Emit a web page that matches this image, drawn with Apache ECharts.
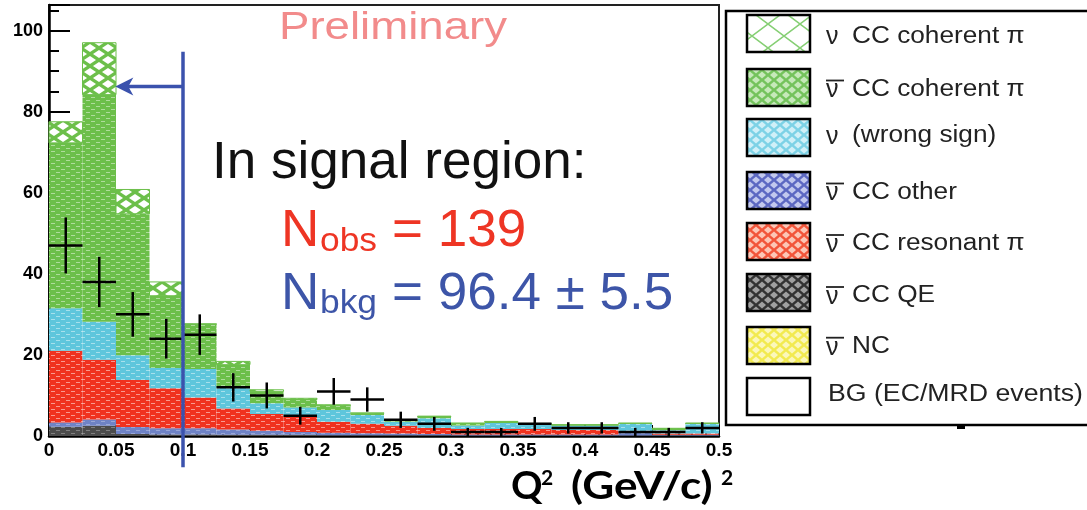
<!DOCTYPE html>
<html><head><meta charset="utf-8">
<script src="https://cdn.jsdelivr.net/npm/echarts@6/dist/echarts.min.js"></script>
<style>html,body{margin:0;padding:0;background:#fff}#c{width:1087px;height:510px}</style>
</head><body><div id="c"></div>
<script>
// ---------- data ----------
const binEdges = [0,0.025,0.05,0.075,0.1,0.125,0.15,0.175,0.2,0.225,0.25,0.275,0.3,0.325,0.35,0.375,0.4,0.425,0.45,0.475,0.5];
const xTickLabels = ['0','0.05','0.1','0.15','0.2','0.25','0.3','0.35','0.4','0.45','0.5'];
const yTickLabels = ['0','20','40','60','80','100'];

// stacked MC components (bottom -> top), events per bin
const bgEcMrd          = [0,0,0,0,0,0,0,0,0,0,0,0,0,0,0,0,0,0,0,0];
const nubarNC          = [0,0,0,0,0,0,0,0,0,0,0,0,0,0,0,0,0,0,0,0];
const nubarCCQE        = [2.3,2.5,0.5,0.4,0.4,0.3,0.3,0.3,0.2,0.2,0.2,0.2,0.1,0.1,0.1,0.1,0.1,0.1,0.1,0.1];
const nubarCCOther     = [1.0,1.6,1.7,1.5,1.5,1.3,1.0,0.7,0.6,0.5,0.4,0.3,0.3,0.3,0.3,0.3,0.3,0.7,0.2,0.2];
const nubarCCResonant  = [17.7,14.7,11.6,9.9,7.6,5.2,4.1,3.7,2.7,2.3,1.9,1.5,1.3,1.3,1.3,1.1,1.1,0.2,0.3,0.3];
const nuWrongSign      = [10.5,9.4,6.1,5.0,7.0,5.2,2.7,2.3,2.9,2.2,1.0,2.4,0.9,1.5,1.2,1.1,1.1,2.0,0.8,2.4];
const nubarCCCoherent  = [40.8,56.0,34.9,17.8,11.0,5.6,2.9,2.0,1.1,0.4,0.3,0.4,0.5,0.3,0.1,0.1,0.1,0.1,0.4,0.1];
const nuCCCoherent     = [5.2,12.8,6.0,3.4,0.2,0.8,0.4,0.3,0.2,0.1,0.1,0.1,0.1,0.1,0.1,0.1,0.1,0.1,0.1,0.1];

// observed data with vertical error bars
const dataCounts = [47,38,30,24,25,12,10,5,11,9,4,3,1,1,3,2,2,1,1,2];
const dataErrors = [6.9,6.2,5.5,4.9,5.0,3.5,3.2,2.2,3.3,3.0,2.0,1.7,1.0,1.0,1.7,1.4,1.4,1.0,1.0,1.4];

const legendLabels = ['CC coherent π','CC coherent π','(wrong sign)','CC other','CC resonant π','CC QE','NC','BG (EC/MRD events)'];
const legendBar    = [false,true,false,true,true,true,true,null];

// ---------- patterns ----------
function pat(w,h,draw){const c=document.createElement('canvas');c.width=w;c.height=h;const g=c.getContext('2d');draw(g,w,h);return {image:c,repeat:'repeat'};}
function dashPat(base,dash,alpha){return pat(10,6,g=>{g.fillStyle=base;g.fillRect(0,0,10,6);g.globalAlpha=alpha;g.fillStyle=dash;g.fillRect(1,1,4,1);g.fillRect(6,4,4,1);});}
function diamondPat(base,light,w,h,rx,ry){return pat(w,h,g=>{g.fillStyle=base;g.fillRect(0,0,w,h);g.fillStyle=light;
  const d=(cx,cy)=>{g.beginPath();g.moveTo(cx-rx,cy);g.lineTo(cx,cy-ry);g.lineTo(cx+rx,cy);g.lineTo(cx,cy+ry);g.closePath();g.fill();};
  d(w/2,h/2);d(0,0);d(w,0);d(0,h);d(w,h);});}
function latticePat(bg,line,w,h,lw){return pat(w,h,g=>{g.fillStyle=bg;g.fillRect(0,0,w,h);g.strokeStyle=line;g.lineWidth=lw;g.beginPath();g.moveTo(0,0);g.lineTo(w,h);g.moveTo(0,h);g.lineTo(w,0);g.stroke();});}

const GREEN='#6cbf4a';
const layers = [
  {vals:bgEcMrd,         fill:'#ffffff'},
  {vals:nubarNC,         fill:dashPat('#f2e84a','#fff',0.5)},
  {vals:nubarCCQE,       fill:dashPat('#4c4c4c','#999',0.7)},
  {vals:nubarCCOther,    fill:dashPat('#6f83c6','#fff',0.3)},
  {vals:nubarCCResonant, fill:dashPat('#f0321f','#fff',0.5)},
  {vals:nuWrongSign,     fill:dashPat('#5ec6dc','#fff',0.45)},
  {vals:nubarCCCoherent, fill:dashPat(GREEN,'#fff',0.45)},
  {vals:nuCCCoherent,    fill:diamondPat(GREEN,'#fff',18,12,6,4), stroke:GREEN}
];
const legendFills = [
  latticePat('#fff','#86cf74',32,24,1.5),
  diamondPat('#74c35c','#c6e9ba',12,10,4,3.5),
  diamondPat('#7dd2e6','#d0f0f8',12,10,4,3.5),
  diamondPat('#5c68c2','#c2c8ee',12,10,4,3.5),
  diamondPat('#f2553a','#fcc6b6',12,10,4,3.5),
  diamondPat('#333333','#a0a0a0',12,10,4,3.5),
  diamondPat('#f2ea50','#fbf7bb',12,10,4,3.5),
  '#ffffff'
];

// ---------- series ----------
const cum = binEdges.slice(1).map(()=>0);
const series = layers.map((L,k)=>{
  const data = L.vals.map((v,i)=>{const b=cum[i];cum[i]+=v;return [binEdges[i],binEdges[i+1],b,cum[i]];});
  return {
    type:'custom', coordinateSystem:'cartesian2d', xAxisIndex:0, yAxisIndex:0, silent:true, z:2+k,
    data,
    renderItem(params,api){
      const p0=api.coord([api.value(0),api.value(3)]);
      const p1=api.coord([api.value(1),api.value(2)]);
      const h=p1[1]-p0[1];
      if(h<=0.01) return {type:'group',children:[]};
      return {type:'rect',shape:{x:p0[0],y:p0[1],width:p1[0]-p0[0],height:h},
        style:{fill:L.fill,stroke:L.stroke||null,lineWidth:L.stroke?1:0}};
    }
  };
});
series.push({
  type:'custom', coordinateSystem:'cartesian2d', xAxisIndex:0, yAxisIndex:0, silent:true, z:20,
  data:dataCounts.map((v,i)=>[(binEdges[i]+binEdges[i+1])/2, v, dataErrors[i], (binEdges[i+1]-binEdges[i])/2]),
  renderItem(params,api){
    const xc=api.value(0),y=api.value(1),e=api.value(2),hw=api.value(3);
    const pl=api.coord([xc-hw,y]),pr=api.coord([xc+hw,y]),pt=api.coord([xc,y+e]),pb=api.coord([xc,Math.max(0,y-e)]);
    const st={stroke:'#000',lineWidth:2.5};
    return {type:'group',children:[
      {type:'line',shape:{x1:pl[0],y1:pl[1],x2:pr[0],y2:pr[1]},style:st},
      {type:'line',shape:{x1:pt[0],y1:pt[1],x2:pb[0],y2:pb[1]},style:st}
    ]};
  }
});

const FONT="'Liberation Sans', Arial, Helvetica, sans-serif";
const chart = echarts.init(document.getElementById('c'),null,{renderer:'canvas'});
const YMAX=106.3;
chart.setOption({
  backgroundColor:'#fff',
  animation:false,
  grid:{left:49,right:368,top:5,bottom:74,show:true,borderColor:'#222',borderWidth:2,backgroundColor:'transparent'},
  xAxis:[{
    type:'value',min:0,max:0.5,interval:0.05,
    axisLine:{show:true,onZero:false,lineStyle:{color:'#000',width:2.5}},
    axisTick:{show:true,inside:true,length:11,lineStyle:{color:'#000',width:2}},
    minorTick:{show:true,splitNumber:5,length:5,lineStyle:{color:'#000',width:1.5}},
    splitLine:{show:false},
    axisLabel:{margin:5,color:'#000',fontFamily:FONT,fontWeight:'bold',fontSize:19,
      formatter:v=>xTickLabels[Math.round(v/0.05)]||''}
  }],
  yAxis:[{
    type:'value',min:0,max:YMAX,interval:20,
    axisLine:{show:true,onZero:false,lineStyle:{color:'#000',width:2.5}},
    axisTick:{show:true,inside:true,length:21,lineStyle:{color:'#000',width:2}},
    splitLine:{show:false},
    axisLabel:{margin:6,color:'#000',fontFamily:FONT,fontWeight:'bold',fontSize:18,
      formatter:v=>{const r=Math.round(v);return (Math.abs(v-r)<1e-6 && r%20===0)?(yTickLabels[r/20]||''):'';}}
  },{
    type:'value',min:0,max:YMAX,interval:5,position:'left',offset:0,
    axisLine:{show:false},
    axisTick:{show:true,inside:true,length:10,lineStyle:{color:'#000',width:2}},
    axisLabel:{show:false},splitLine:{show:false}
  }],
  series
});

// ---------- annotations ----------
const P=(x,y)=>chart.convertToPixel({gridIndex:0},[x,y]);
const cutX=0.1, cutTop=94.8, cutBottom=-7.7, arrowY=86.2, arrowTipX=0.0495;
const blue='#3b52ad';
const lt=P(cutX,cutTop), lb=P(cutX,cutBottom), aS=P(cutX,arrowY), aT=P(arrowTipX,arrowY);
const g=[];
g.push({type:'line',shape:{x1:lt[0],y1:lt[1],x2:lb[0],y2:lb[1]},style:{stroke:blue,lineWidth:3.5},z:50});
g.push({type:'line',shape:{x1:aS[0],y1:aS[1],x2:aT[0]+12,y2:aT[1]},style:{stroke:blue,lineWidth:3.5},z:50});
g.push({type:'polygon',shape:{points:[[aT[0],aT[1]],[aT[0]+18,aT[1]-9],[aT[0]+13,aT[1]],[aT[0]+18,aT[1]+9]]},style:{fill:blue},z:50});

function txt(x,y,text,size,color,opts){
  opts=opts||{};
  return {type:'text',x,y,scaleX:opts.sx||1,scaleY:1,z:60,
    style:{text,fontSize:size,fontFamily:opts.family||FONT,fontWeight:opts.weight||'normal',fill:color,
      align:'left',verticalAlign:'middle'}};
}
g.push(txt(279,28.5,'Preliminary',38,'#f28b8b',{sx:1.2}));
g.push(txt(212,164,'In signal region:',51,'#111',{sx:1.04}));
const red='#ee3524';
g.push(txt(281,232.3,'N',51,red,{sx:1.04}));
g.push(txt(320,241.5,'obs',34,red,{sx:1.04}));
g.push(txt(392,232.3,'= 139',51,red,{sx:1.04}));
const bl='#3d55a8';
g.push(txt(281,295.3,'N',51,bl,{sx:1.04}));
g.push(txt(320,304,'bkg',34,bl,{sx:1.04}));
g.push(txt(392,295.3,'= 96.4 ± 5.5',51,bl,{sx:1.04}));

// axis title Q^2 (GeV/c)^2
const QF="Lato, 'Open Sans', 'Noto Sans', sans-serif";
g.push(txt(511,486,'Q',39,'#000',{family:QF,weight:'bold'}));
g.push(txt(541,478,'2',21,'#000',{family:QF,weight:'bold'}));
g.push(txt(571,486,'(GeV/c)',39,'#000',{family:QF,weight:'bold',sx:1.13}));
g.push(txt(721,478,'2',21,'#000',{family:QF,weight:'bold'}));

// legend box
g.push({type:'rect',shape:{x:726,y:11,width:380,height:414},style:{fill:'#fff',stroke:'#000',lineWidth:2.5},z:40});
g.push({type:'rect',shape:{x:957,y:425,width:8,height:4},style:{fill:'#000'},z:40});
const swTop=[15,69,119,172,223,274,327,378];
const txC=[36.5,89.5,136,192.5,244,296,346.7,395];
legendLabels.forEach((lab,i)=>{
  g.push({type:'rect',shape:{x:747,y:swTop[i],width:63,height:37},style:{fill:legendFills[i],stroke:'#000',lineWidth:2.5},z:41});
  if(legendBar[i]===null){
    g.push(txt(828,txC[i],lab,23,'#222',{sx:1.16}));
  } else {
    g.push(txt(826,txC[i]+1,'ν',25,'#222'));
    if(legendBar[i]) g.push({type:'line',shape:{x1:826,y1:txC[i]-9,x2:844,y2:txC[i]-9},style:{stroke:'#222',lineWidth:1.8},z:61});
    g.push(txt(852,txC[i],lab,23,'#222',{sx:1.14}));
  }
});
chart.setOption({graphic:g});
</script></body></html>
